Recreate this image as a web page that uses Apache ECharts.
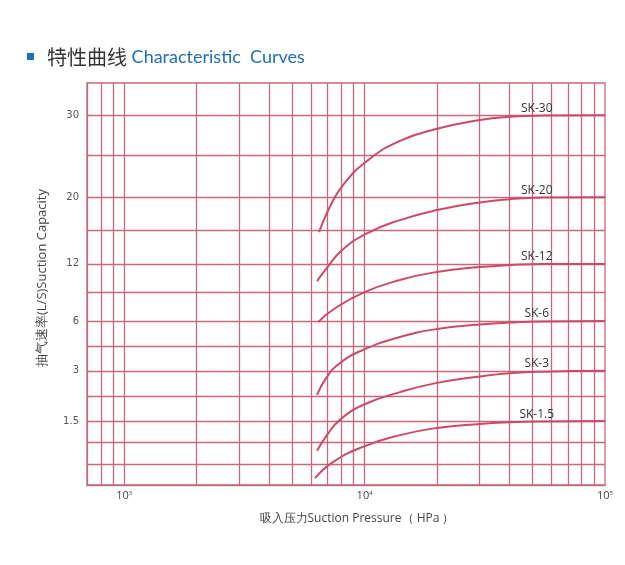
<!DOCTYPE html>
<html><head><meta charset="utf-8">
<script src="https://cdn.jsdelivr.net/npm/echarts@6/dist/echarts.min.js"></script>
<style>html,body{margin:0;padding:0;background:#fff}#c{width:625px;height:565px}</style>
</head><body><div id="c"></div>
<script>
// X axis: suction pressure (HPa), log scale
const xMin = 700, xMax = 100000;
const xLabelValues = [1000, 10000, 100000];
const xGridValues = [800, 900, 1000, 2000, 3000, 4000, 5000, 6000, 7000, 8000, 9000,
  10000, 20000, 30000, 40000, 50000, 60000, 70000, 80000, 90000];
// Y axis: printed capacity scale (non-uniform), positions in axis units 0..100
const yMin = 0, yMax = 100;
const yTickLabels = ['30', '20', '12', '6', '3', '1.5'];
const yTickPos = [92.0, 71.6, 55.0, 40.8, 28.4, 15.9];
const yGridPos = [92.0, 82.1, 71.6, 63.4, 55.0, 47.9, 40.8, 34.6, 28.4, 22.1, 15.9, 10.7, 5.2];

// Curves
const seriesNames = ['SK-30', 'SK-20', 'SK-12', 'SK-6', 'SK-3', 'SK-1.5'];
const pSK30  = [6460, 7170, 8130, 10230, 14030, 20000, 30190, 40000, 55000, 100000];
const cSK30  = [62.9, 69.2, 74.6, 80.6, 85.6, 88.6, 90.8, 91.6, 91.9, 92.0];
const pSK20  = [6340, 6970, 8050, 10230, 14030, 20000, 30190, 40000, 55000, 100000];
const cSK20  = [50.7, 54.0, 58.4, 62.6, 65.9, 68.4, 70.3, 71.1, 71.5, 71.6];
const pSK12  = [6400, 7380, 9840, 14030, 20000, 30190, 40000, 55000, 100000];
const cSK12  = [40.5, 43.6, 47.8, 51.0, 53.0, 54.2, 54.7, 55.0, 55.0];
const pSK6   = [6340, 6970, 7890, 9840, 14030, 20000, 30190, 40000, 55000, 100000];
const cSK6   = [22.4, 26.9, 30.3, 33.6, 36.8, 38.8, 39.9, 40.4, 40.7, 40.8];
const pSK3   = [6340, 6970, 7890, 9840, 14030, 20000, 30190, 40000, 55000, 100000];
const cSK3   = [8.5, 12.4, 16.2, 19.9, 23.1, 25.4, 27.0, 27.8, 28.2, 28.4];
const pSK1_5 = [6215, 7380, 9840, 14030, 20000, 30190, 40000, 55000, 100000];
const cSK1_5 = [1.7, 5.7, 9.5, 12.4, 14.2, 15.2, 15.6, 15.8, 15.9];
const curveP = [pSK30, pSK20, pSK12, pSK6, pSK3, pSK1_5];
const curveC = [cSK30, cSK20, cSK12, cSK6, cSK3, cSK1_5];
const curveLabelAt = 52000;

const gridColor = '#c6687a';
const curveColor = '#cc4a68';

const chart = echarts.init(document.getElementById('c'), null, {renderer: 'canvas'});

const series = [{
  type: 'line', data: [], silent: true, symbol: 'none',
  markLine: {
    silent: true, symbol: ['none', 'none'], animation: false,
    label: {show: false},
    lineStyle: {color: gridColor, width: 1.3, type: 'solid'},
    data: xGridValues.map(v => ({xAxis: v})).concat(yGridPos.map(v => ({yAxis: v})))
  }
}];
seriesNames.forEach((name, i) => {
  const pts = curveP[i].map((p, j) => [p, curveC[i][j]]);
  const level = curveC[i][curveC[i].length - 1];
  series.push({
    name, type: 'line', data: pts, smooth: 0.5, symbol: 'none', z: 5,
    lineStyle: {color: curveColor, width: 2},
    markPoint: {
      symbol: 'circle', symbolSize: 0, animation: false,
      data: [{coord: [curveLabelAt, level]}],
      label: {show: true, position: 'top', distance: 1, formatter: name,
        color: '#333', fontSize: 12, fontFamily: 'Open Sans'}
    }
  });
});

const option = {
  animation: false,
  backgroundColor: '#fff',
  grid: {left: 87, right: 20, top: 83, bottom: 80, show: true,
    borderColor: gridColor, borderWidth: 1.3, backgroundColor: 'transparent'},
  graphic: [
    {type: 'rect', shape: {x: 27, y: 53, width: 7, height: 7}, style: {fill: '#1d72bd'}},
    {type: 'text', x: 47, y: 57, style: {
      text: '{cn|特性曲线}{sp| }{en|Characteristic  Curves}', verticalAlign: 'middle',
      rich: {
        cn: {fontSize: 20, fontFamily: 'Noto Sans CJK SC', fill: '#333'},
        sp: {fontSize: 18, fontFamily: 'Lato'},
        en: {fontSize: 18, fontFamily: 'Lato', fill: '#1d6fb5'}
      }}}
  ],
  xAxis: {
    type: 'log', logBase: 10, min: xMin, max: xMax,
    name: '吸入压力Suction Pressure（ HPa ）', nameLocation: 'middle', nameGap: 28,
    nameTextStyle: {color: '#444', fontSize: 12, fontFamily: 'Open Sans', padding: [0, 0, 0, 22]},
    axisLine: {show: true, lineStyle: {color: gridColor, width: 1.3}},
    axisTick: {show: false},
    splitLine: {show: false},
    axisLabel: {
      margin: 5, color: '#444',
      formatter: v => {
        const e = Math.round(Math.log10(v));
        const hit = xLabelValues.some(t => Math.abs(v - t) / t < 1e-6);
        return hit ? '{b|10}{s|' + e + '}' : '';
      },
      rich: {
        b: {fontSize: 11, fontFamily: 'Open Sans', color: '#444'},
        s: {fontSize: 6, fontFamily: 'Open Sans', color: '#444', verticalAlign: 'top', padding: [0, 0, 6, 0]}
      }
    }
  },
  yAxis: {
    type: 'value', min: yMin, max: yMax,
    name: '抽气速率(L/S)Suction Capacity', nameLocation: 'middle', nameGap: 38, nameRotate: 90,
    nameTextStyle: {color: '#444', fontSize: 13, fontFamily: 'Open Sans', padding: [0, 0, 0, 12]},
    axisLine: {show: true, lineStyle: {color: gridColor, width: 1.3}},
    axisTick: {show: false},
    splitLine: {show: false},
    axisLabel: {
      customValues: yTickPos, margin: 8, color: '#555', fontSize: 10, fontFamily: 'DejaVu Sans',
      formatter: v => {
        const k = yTickPos.findIndex(p => Math.abs(p - v) < 1e-6);
        return k >= 0 ? yTickLabels[k] : '';
      }
    }
  },
  series
};
chart.setOption(option);
</script></body></html>
